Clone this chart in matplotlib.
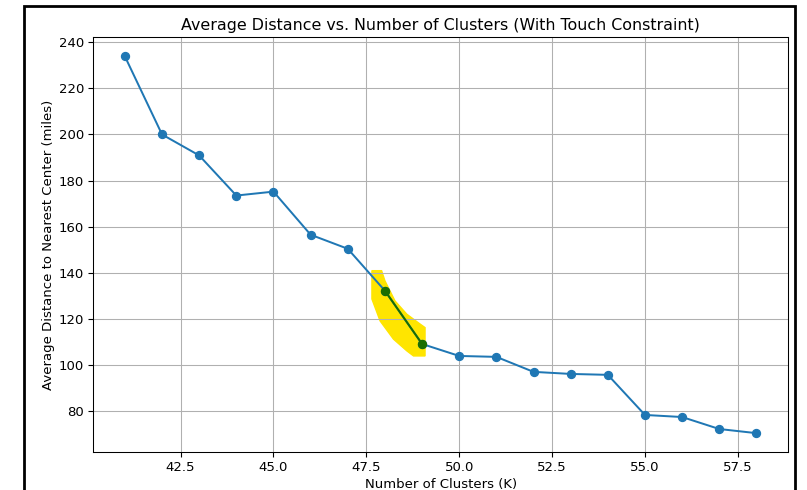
import matplotlib
matplotlib.use("Agg")
import matplotlib.pyplot as plt
from matplotlib.patches import Rectangle, Polygon

k_values = [41, 42, 43, 44, 45, 46, 47, 48, 49, 50, 51, 52, 53, 54, 55, 56, 57, 58]
avg_dist = [233.9, 200.0, 190.9, 173.5, 175.2, 156.5, 150.4, 132.2, 109.1,
            103.9, 103.5, 97.0, 96.1, 95.7, 78.3, 77.4, 72.2, 70.4]
highlight_k = [48, 49]
highlight_dist = [132.2, 109.1]

# freehand highlight outline (data coords)
hl_x = [47.65, 47.65, 47.87, 48.23, 48.59, 48.77, 49.08, 49.08, 48.95, 48.59, 48.27, 48.0, 47.91]
hl_y = [140.9, 128.6, 119.1, 111.2, 106.1, 103.9, 103.9, 116.2, 117.7, 122.0, 127.8, 136.5, 140.9]

s = 0.95
plt.rcParams.update({
    'font.size': 10 * s,
    'axes.titlesize': 12 * s,
    'axes.labelsize': 10 * s,
    'xtick.labelsize': 10 * s,
    'ytick.labelsize': 10 * s,
    'lines.linewidth': 1.5 * s,
    'lines.markersize': 6 * s,
    'axes.titlepad': 6 * s,
    'axes.labelpad': 3,
    'xtick.major.size': 3.5 * s,
    'ytick.major.size': 3.5 * s,
    'xtick.major.pad': 2.8,
    'ytick.major.pad': 3.5 * s,
    'grid.linewidth': 0.8 * s,
    'axes.linewidth': 0.8 * s,
})

fig = plt.figure(figsize=(8.07, 4.90), dpi=100)
ax = fig.add_axes([93.3/807, 1 - 452/490, (788 - 93.3)/807, (452 - 37.5)/490])

ax.add_patch(Polygon(list(zip(hl_x, hl_y)), closed=True, facecolor='#FFE500',
                     edgecolor='#FFE500', linewidth=1, zorder=1.5))
ax.plot(k_values, avg_dist, marker='o', color='#1f77b4', zorder=2)
ax.plot(highlight_k, highlight_dist, marker='o', color='#1a6e00', zorder=3)

ax.set_title('Average Distance vs. Number of Clusters (With Touch Constraint)')
ax.set_xlabel('Number of Clusters (K)')
ax.set_ylabel('Average Distance to Nearest Center (miles)')
ax.grid(True)

fig.patches.append(Rectangle((24/807, -0.1), (795-24)/807, 1.1 - 6/490,
                             transform=fig.transFigure, fill=False,
                             edgecolor='black', linewidth=2))

fig.savefig('out.png', dpi=100)
